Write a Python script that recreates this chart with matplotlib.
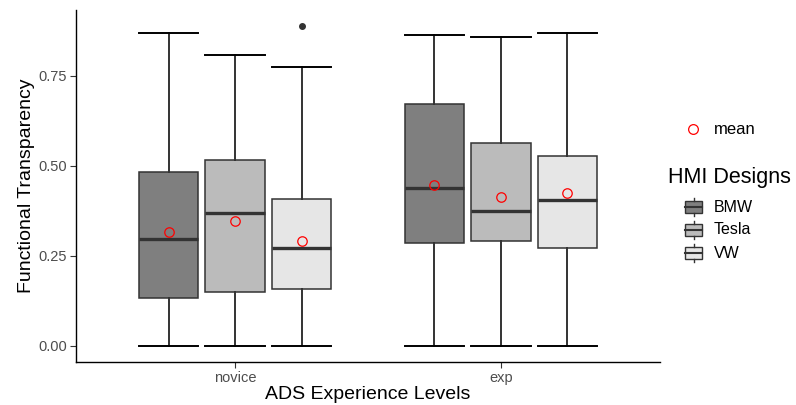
import matplotlib
matplotlib.use("Agg")
import matplotlib.pyplot as plt
from matplotlib.patches import Rectangle

plt.rcParams['font.family'] = ['Liberation Sans', 'DejaVu Sans']

levels = ["novice", "exp"]
designs = ["BMW", "Tesla", "VW"]
fills = ["#7F7F7F", "#BBBBBB", "#E6E6E6"]

# [whislo, q1, med, q3, whishi, mean]
novice_BMW = [0.0, 0.132, 0.296, 0.482, 0.868, 0.317]
novice_Tesla = [0.0, 0.148, 0.368, 0.515, 0.807, 0.346]
novice_VW = [0.0, 0.157, 0.272, 0.407, 0.774, 0.291]
exp_BMW = [0.0, 0.284, 0.439, 0.671, 0.863, 0.447]
exp_Tesla = [0.0, 0.292, 0.375, 0.562, 0.856, 0.414]
exp_VW = [0.0, 0.271, 0.404, 0.528, 0.868, 0.424]
outliers = {("novice", "VW"): [0.888]}

data = {
    ("novice", "BMW"): novice_BMW, ("novice", "Tesla"): novice_Tesla, ("novice", "VW"): novice_VW,
    ("exp", "BMW"): exp_BMW, ("exp", "Tesla"): exp_Tesla, ("exp", "VW"): exp_VW,
}

yticks = [0.00, 0.25, 0.50, 0.75]
ytick_labels = ["0.00", "0.25", "0.50", "0.75"]

W, H = 796, 405
fig = plt.figure(figsize=(W / 100, H / 100), dpi=100)
ax = fig.add_axes([76 / W, (H - 361.7) / H, (660 - 76) / W, (361.7 - 10) / H])

dodge = 0.25
bw = 0.225
edge = "#333333"
for gi, lvl in enumerate(levels):
    for di, d in enumerate(designs):
        v = data[(lvl, d)]
        st = dict(whislo=v[0], q1=v[1], med=v[2], q3=v[3], whishi=v[4], mean=v[5],
                  fliers=outliers.get((lvl, d), []))
        pos = gi + 1 + (di - 1) * dodge
        ax.bxp([st], positions=[pos], widths=bw, capwidths=bw, patch_artist=True,
               showmeans=True, manage_ticks=False,
               boxprops=dict(facecolor=fills[di], edgecolor=edge, linewidth=1.1),
               medianprops=dict(color=edge, linewidth=2.4, solid_capstyle='butt'),
               whiskerprops=dict(color=edge, linewidth=1.4),
               capprops=dict(color="black", linewidth=1.4),
               meanprops=dict(marker='o', markerfacecolor='none', markeredgecolor='red',
                              markersize=6.8, markeredgewidth=0.9),
               flierprops=dict(marker='o', markerfacecolor=edge, markeredgecolor=edge,
                               markersize=4))

ax.set_xlim(0.402, 2.598)
ax.set_ylim(-0.0444, 0.932)
ax.set_xticks([1, 2])
ax.set_xticklabels(levels)
ax.set_yticks(yticks)
ax.set_yticklabels(ytick_labels)
for s in ["top", "right"]:
    ax.spines[s].set_visible(False)
for s in ["left", "bottom"]:
    ax.spines[s].set_linewidth(1.0)
    ax.spines[s].set_color("black")
ax.tick_params(axis='both', colors="#333333", labelcolor="#4D4D4D", labelsize=10.5,
               length=4, width=0.8, pad=2.5)
ax.set_xlabel("ADS Experience Levels", fontsize=14, color="black", labelpad=1)
ax.set_ylabel("Functional Transparency", fontsize=14, color="black", labelpad=2)

# legend area in pixel coordinates
lg = fig.add_axes([0, 0, 1, 1], facecolor='none')
lg.set_xlim(0, W)
lg.set_ylim(H, 0)
lg.axis('off')
lg.plot([693], [129], marker='o', mfc='none', mec='red', ms=7, mew=0.9)
lg.text(714, 129, "mean", fontsize=12, va='center', ha='left')
lg.text(668, 178, "HMI Designs", fontsize=15.5, va='center', ha='left')
for i, (d, f) in enumerate(zip(designs, fills)):
    yc = 207 + i * 23
    lg.add_patch(Rectangle((685, yc - 6), 17, 12, facecolor=f, edgecolor=edge, linewidth=1))
    lg.plot([685, 702], [yc, yc], color=edge, lw=1.5)
    lg.plot([693.5, 693.5], [yc - 9, yc - 6], color=edge, lw=1)
    lg.plot([693.5, 693.5], [yc + 6, yc + 9], color=edge, lw=1)
    lg.text(714, yc, d, fontsize=11.5, va='center', ha='left')

fig.savefig("out.png", dpi=100)
